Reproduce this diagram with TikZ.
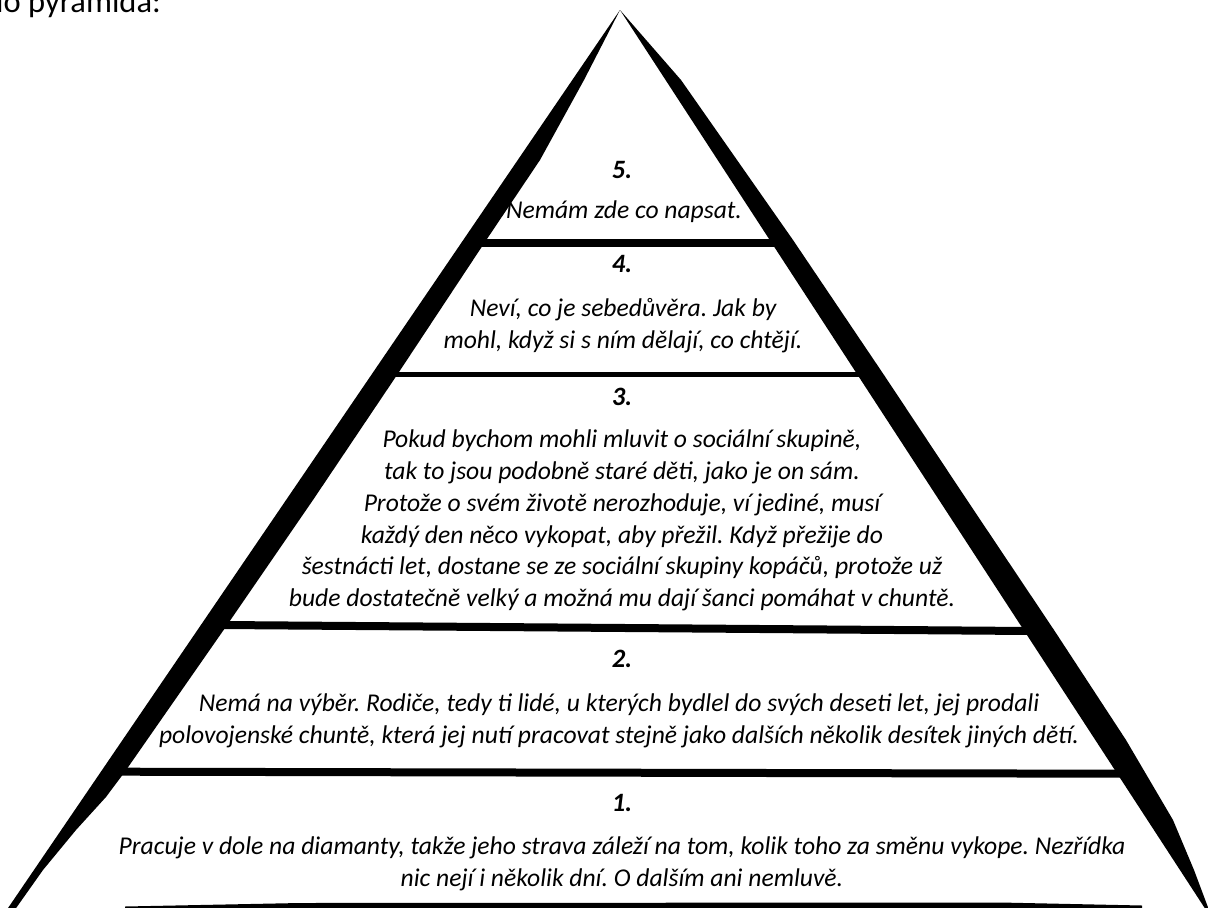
\documentclass[tikz,border=0pt]{standalone}
\usepackage{fontspec}
\setmainfont{Carlito}
\frenchspacing
\begin{document}
\begin{tikzpicture}[x=1pt,y=-1pt]
\tikzset{
  lvltxt/.style={font=\itshape\fontsize{25.6}{31.8}\selectfont, align=center, inner sep=0pt},
  lvlnum/.style={font=\bfseries\itshape\fontsize{26.5}{31.8}\selectfont, inner sep=0pt},
  band/.style={fill=black, draw=none},
  tierbar/.style={draw=black, line width=#1, line cap=butt},
  caption/.style={font=\fontsize{32.5}{38}\selectfont, inner sep=0pt}
}
\clip (0,0) rectangle (1208,908);
\fill[white] (0,0) rectangle (1208,908);
% top caption, cut by the page edge
\node[caption, anchor=base east] (cap) at (161,12.5) {lo pyramida:};
% apex
\coordinate (apex) at (620,10);
% left side (tapered stroke)
\fill[band] (apex) -- (6,911) -- (14,911) -- (43,870) -- (76,830) -- (106,797) -- (124.7,772) -- (225,628) -- (313,500) -- (399,372) -- (486.3,240) -- (540,160) -- (584,80) -- cycle;
% right side (tapered stroke)
\fill[band] (apex) -- (1206,910) -- (1209,910) -- (1194,870) -- (1173,820) -- (1126,740) -- (1054,630) -- (967,500) -- (884,375) -- (793,240) -- (737,160) -- (681,80) -- cycle;
% tier bars
\draw[tierbar=8] (482,243) -- (775,243);
\draw[tierbar=5.5] (394,374.5) -- (861,374.5);
\draw[tierbar=8] (222,625) -- (1030,631);
\draw[tierbar=8] (120,771.7) -- (1122,773.7);
\fill[band] (125,906.5) -- (300,903) -- (1000,902.5) -- (1142,905.5) -- (1142,912) -- (125,912) -- cycle;
% level 5
\node[lvlnum] (n5) at (622,170) {5.};
\node[lvltxt] (t5) at (624,212) {Nemám zde co napsat.};
% level 4
\node[lvlnum] (n4) at (622,264) {4.};
\node[lvltxt] (t4) at (623,326) {Neví, co je sebedůvěra. Jak by\\mohl, když si s ním dělají, co chtějí.};
% level 3
\node[lvlnum] (n3) at (622,397) {3.};
\node[lvltxt] (t3) at (622,520.5) {Pokud bychom mohli mluvit o sociální skupině,\\tak to jsou podobně staré děti, jako je on sám.\\Protože o svém životě nerozhoduje, ví jediné, musí\\každý den něco vykopat, aby přežil. Když přežije do\\šestnácti let, dostane se ze sociální skupiny kopáčů, protože už\\bude dostatečně velký a možná mu dají šanci pomáhat v chuntě.};
% level 2
\node[lvlnum] (n2) at (622,659) {2.};
\node[lvltxt] (t2) at (619,721) {Nemá na výběr. Rodiče, tedy ti lidé, u kterých bydlel do svých deseti let, jej prodali\\polovojenské chuntě, která jej nutí pracovat stejně jako dalších několik desítek jiných dětí.};
% level 1
\node[lvlnum] (n1) at (622,803) {1.};
\node[lvltxt] (t1) at (622,864) {Pracuje v dole na diamanty, takže jeho strava záleží na tom, kolik toho za směnu vykope. Nezřídka\\nic nejí i několik dní. O dalším ani nemluvě.};
\end{tikzpicture}
\end{document}
